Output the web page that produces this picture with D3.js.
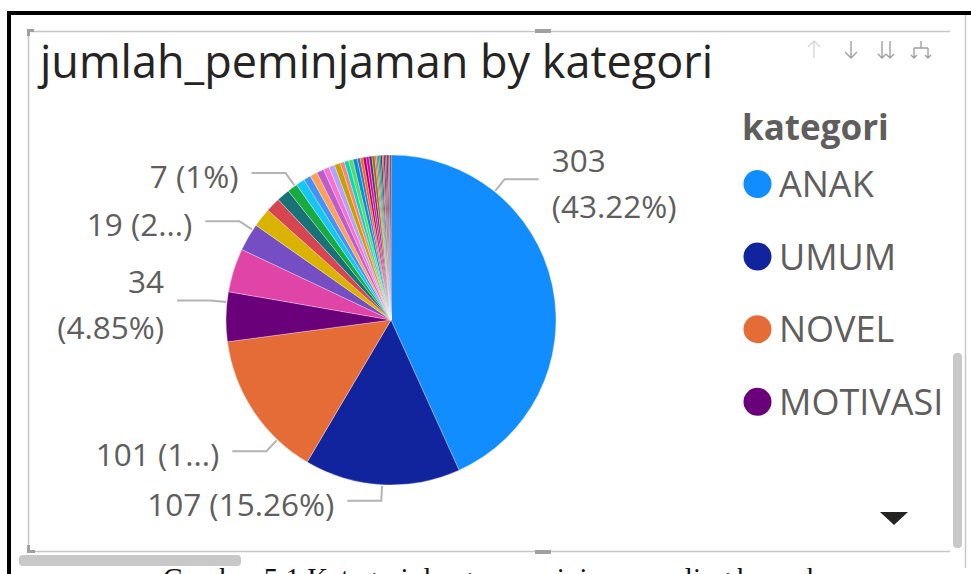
<!DOCTYPE html>
<html>
<head>
<meta charset="utf-8">
<script src="https://cdn.jsdelivr.net/npm/d3@7"></script>
<style>
  body { margin: 0; background: #fff; }
  svg { display: block; }
  text { font-family: 'Open Sans', 'Noto Sans', sans-serif; }
</style>
</head>
<body>
<svg id="chart"></svg>
<script>
const categories = ['ANAK', 'UMUM', 'NOVEL', 'MOTIVASI', 'AGAMA', 'PENDIDIKAN', 'SEJARAH', 'SAINS',
  'KOMIK', 'BIOGRAFI', 'TEKNOLOGI', 'KESEHATAN', 'EKONOMI', 'BAHASA', 'HUKUM', 'POLITIK', 'SOSIAL',
  'BUDAYA', 'PSIKOLOGI', 'FILSAFAT', 'SASTRA', 'SENI', 'OLAHRAGA', 'MASAK', 'PERTANIAN', 'MATEMATIKA',
  'FISIKA', 'KIMIA', 'BIOLOGI', 'GEOGRAFI', 'KAMUS', 'ENSIKLOPEDIA', 'MAJALAH', 'REFERENSI',
  'PARENTING', 'BISNIS', 'KOMPUTER', 'PARIWISATA'];
const values = [303, 107, 101, 34, 30, 19, 13, 10, 9, 7, 6, 5, 5, 5, 4, 4, 4, 3, 3, 3, 3,
  2, 2, 2, 2, 2, 2, 1, 1, 1, 1, 1, 1, 1, 1, 1, 1, 1];
const palette = ['#118DFF', '#12239E', '#E66C37', '#6B007B', '#E044A7', '#744EC2', '#D9B300', '#D64550',
  '#197278', '#1AAB40', '#15C6F4', '#4092FF', '#FFA058', '#BE5DC9', '#F472D0', '#B5A1FF', '#C4A200',
  '#FF8080', '#00DBBC', '#5BD667', '#0091D5', '#4668C5', '#FF6300', '#99008A', '#EC008C', '#533285',
  '#99700A', '#FF4141', '#1F9A85', '#25891C', '#0057A2', '#002050', '#C94F0F', '#450F54', '#B60064',
  '#34124F', '#6A5A29', '#BA141A'];
// data labels shown by the visual (index into categories, text lines as displayed)
const labelIndex = [0, 1, 2, 3, 5, 9];
const labelText = [['303', '(43.22%)'], ['107 (15.26%)'], ['101 (1...)'], ['34', '(4.85%)'], ['19 (2...)'], ['7 (1%)']];
const legendItems = ['ANAK', 'UMUM', 'NOVEL', 'MOTIVASI'];

const width = 971;
const height = 574;
const cx = 391;
const cy = 320;
const radius = 165;
// where along each labelled slice the leader line starts (0..1)
const labelAnchor = [0.25, 0.5, 0.25, 0.79, 0.8, 0.8];

const svg = d3.select('#chart')
    .attr('width', width)
    .attr('height', height)
    .attr('viewBox', [0, 0, width, height]);

// document page bits around the screenshot
svg.append('text')
    .attr('x', 492)
    .attr('y', 588)
    .attr('text-anchor', 'middle')
    .style('font-family', "'Liberation Serif', serif")
    .style('font-size', '29px')
    .attr('fill', '#111')
    .text('Gambar 5.1 Kategori dengan peminjaman paling banyak');
svg.append('rect').attr('x', 7).attr('y', 11).attr('width', 964).attr('height', 4).attr('fill', '#000');
svg.append('rect').attr('x', 7).attr('y', 11).attr('width', 4).attr('height', 563).attr('fill', '#000');
svg.append('line').attr('x1', 965.5).attr('x2', 965.5).attr('y1', 15).attr('y2', 568)
    .attr('stroke', '#c8c8c8').attr('stroke-width', 1.5);

// visual frame + handles
const frame = svg.append('g').attr('class', 'frame');
frame.append('path')
    .attr('d', 'M950,31.5H28.5V551.5H950')
    .attr('fill', 'none')
    .attr('stroke', '#c6c6c6')
    .attr('stroke-width', 1.5);
frame.append('path').attr('d', 'M27,29h7v3h-4v4h-3z').attr('fill', '#a0a0a0');
frame.append('path').attr('d', 'M27,545h3v5h5v3h-8z').attr('fill', '#a0a0a0');
frame.append('rect').attr('x', 535).attr('y', 29).attr('width', 16).attr('height', 4).attr('fill', '#a0a0a0');
frame.append('rect').attr('x', 535).attr('y', 550).attr('width', 16).attr('height', 4).attr('fill', '#a0a0a0');
frame.append('rect').attr('x', 19).attr('y', 555).attr('width', 222).attr('height', 11).attr('rx', 4).attr('fill', '#c8c8c8');
frame.append('rect').attr('x', 953).attr('y', 353).attr('width', 9).attr('height', 195).attr('rx', 4).attr('fill', '#c8c8c8');

// header icons
const icons = svg.append('g').attr('fill', 'none').attr('stroke-width', 1.4);
icons.append('path').attr('d', 'M814,41V58M808,47L814,41L820,47').attr('stroke', '#d8d8d8');
icons.append('path').attr('d', 'M851,41V58M845,52L851,58L857,52').attr('stroke', '#a0a0a0');
icons.append('path').attr('d', 'M882,41V58M878,54L882,58L886,54M890,41V58M886,54L890,58L894,54').attr('stroke', '#a0a0a0');
icons.append('path').attr('d', 'M921,41V48M914,48H928M914,48V58M928,48V58M911,55L914,58L917,55M925,55L928,58L931,55')
    .attr('stroke', '#a0a0a0');

// title
svg.append('text')
    .attr('x', 40)
    .attr('y', 78)
    .attr('fill', '#252423')
    .style('font-size', '45px')
    .text('jumlah_peminjaman by kategori');

// pie
const pie = d3.pie().sort(null).value((d) => d);
const arcs = pie(values);
const arc = d3.arc().innerRadius(0).outerRadius(radius);
const color = d3.scaleOrdinal().domain(categories).range(palette);

const gPie = svg.append('g').attr('transform', `translate(${cx},${cy})`);
gPie.selectAll('path')
    .data(arcs)
    .join('path')
    .attr('d', arc)
    .attr('fill', (d, i) => color(categories[i]))
    .attr('stroke', '#fff')
    .attr('stroke-width', 0.5)
    .attr('stroke-opacity', 0.6);

// leader lines + labels
const polar = (a, r) => [r * Math.sin(a), -r * Math.cos(a)];
const gLabels = gPie.append('g');
labelIndex.forEach((idx, k) => {
  const d = arcs[idx];
  const a = d.startAngle + (d.endAngle - d.startAngle) * labelAnchor[k];
  const right = Math.sin(a) > 0;
  const p0 = polar(a, radius + 1);
  const p1 = polar(a, radius + 16);
  const p2 = [p1[0] + (right ? 34 : -34), p1[1]];
  gLabels.append('polyline')
      .attr('points', [p0, p1, p2].map((p) => p.join(',')).join(' '))
      .attr('fill', 'none')
      .attr('stroke', '#b3b3b3')
      .attr('stroke-width', 2);
  const lines = labelText[k];
  const t = gLabels.append('text')
      .attr('x', p2[0] + (right ? 13 : -13))
      .attr('text-anchor', right ? 'start' : 'end')
      .attr('fill', '#605E5C')
      .style('font-size', '31.5px');
  lines.forEach((s, j) => {
    const yc = lines.length === 1 ? p2[1] + 4 : p2[1] + (j === 0 ? -18 : 28);
    t.append('tspan')
        .attr('x', p2[0] + (right ? 13 : -13))
        .attr('y', yc)
        .attr('dy', '0.35em')
        .text(s);
  });
});

// legend
const gLegend = svg.append('g').attr('transform', 'translate(742,0)');
gLegend.append('text')
    .attr('x', 0)
    .attr('y', 140)
    .attr('fill', '#605E5C')
    .style('font-size', '35px')
    .style('font-weight', 'bold')
    .text('kategori');
const item = gLegend.selectAll('g.item')
    .data(legendItems)
    .join('g')
    .attr('class', 'item')
    .attr('transform', (d, i) => `translate(0,${184 + i * 72.6})`);
item.append('circle')
    .attr('cx', 15.5)
    .attr('cy', 0)
    .attr('r', 14)
    .attr('fill', (d) => color(d));
item.append('text')
    .attr('x', 37)
    .attr('y', 0)
    .attr('dy', '0.36em')
    .attr('fill', '#605E5C')
    .style('font-size', '36px')
    .text((d) => d);

svg.append('path').attr('d', 'M880,512H908L894,525Z').attr('fill', '#252423');
</script>
</body>
</html>
